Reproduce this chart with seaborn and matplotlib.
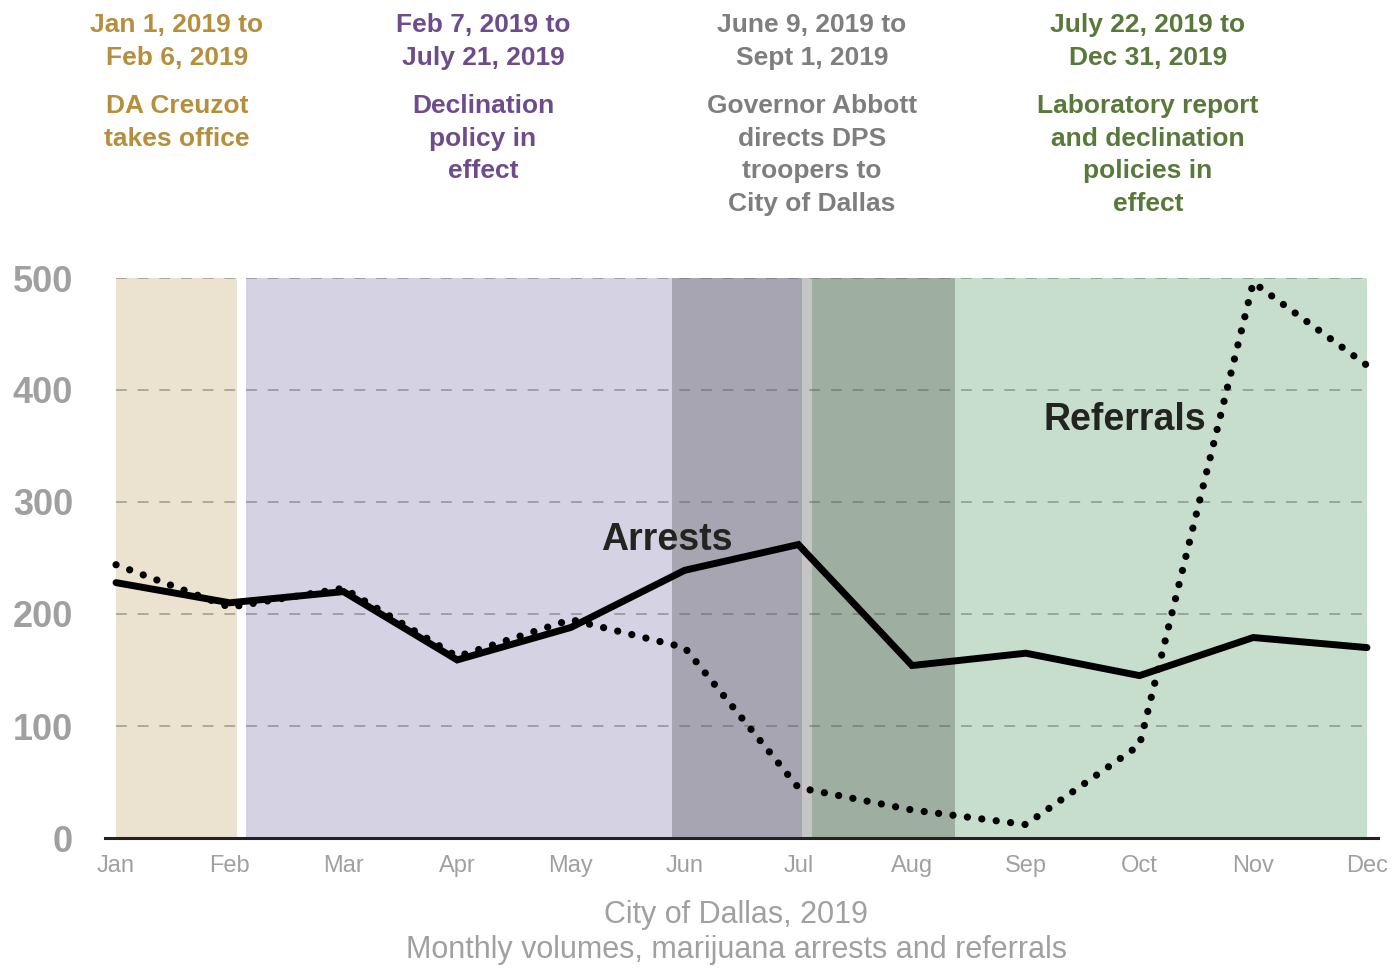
import matplotlib
matplotlib.use("Agg")
import matplotlib.pyplot as plt
import seaborn as sns
import pandas as pd

# Data
months = ["Jan", "Feb", "Mar", "Apr", "May", "Jun",
          "Jul", "Aug", "Sep", "Oct", "Nov", "Dec"]
arrests = [228, 210, 220, 159, 188, 239, 262, 154, 165, 145, 179, 170]
referrals = [244, 206, 223, 162, 195, 170, 45, 25, 12, 83, 496, 422]
y_ticks = [0, 100, 200, 300, 400, 500]

# periods and header text
period_dates = ["Jan 1, 2019 to\nFeb 6, 2019",
                "Feb 7, 2019 to\nJuly 21, 2019",
                "June 9, 2019 to\nSept 1, 2019",
                "July 22, 2019 to\nDec 31, 2019"]
period_notes = ["DA Creuzot\ntakes office",
                "Declination\npolicy in\neffect",
                "Governor Abbott\ndirects DPS\ntroopers to\nCity of Dallas",
                "Laboratory report\nand declination\npolicies in\neffect"]
period_colors = ["#B58F3C", "#6E4C8C", "#7E7E7E", "#58793A"]

df = pd.DataFrame({"x": range(len(months)), "Arrests": arrests, "Referrals": referrals})

sns.set_theme(style="white")
plt.rcParams["font.family"] = ["Liberation Sans", "DejaVu Sans"]

fig = plt.figure(figsize=(13.93, 9.68), dpi=100)
ax = fig.add_axes([105 / 1393, 1 - 838 / 968, (1378 - 105) / 1393, (838 - 278) / 968])

# shaded bands (month units)
bands = [
    (0.0, 1.064, "#EBE3D0"),
    (1.143, 4.89, "#D5D2E3"),
    (4.89, 6.03, "#A8A5B2"),
    (6.03, 6.12, "#C5C5C5"),
    (6.12, 7.38, "#9EAFA2"),
    (7.38, 11.0, "#C7DECD"),
]
for x0, x1, c in bands:
    ax.axvspan(x0, x1, color=c, lw=0, zorder=0)

ax.hlines(y_ticks[1:], 0, len(months) - 1, color="#555555", alpha=0.45, lw=1.3,
          linestyles=[(0, (6, 6))], zorder=1)

sns.lineplot(data=df, x="x", y="Arrests", ax=ax, color="black", lw=5.0,
             solid_joinstyle="miter", zorder=3, clip_on=False)
sns.lineplot(data=df, x="x", y="Referrals", ax=ax, color="black", lw=5.2,
             linestyle=(0, (0.01, 2.0)), dash_capstyle="round", zorder=3, clip_on=False)

ax.set_xlim(-0.097, 11.097)
ax.set_ylim(0, 500)
ax.set_xticks(range(len(months)))
ax.set_xticklabels(months, fontsize=17, color="#A0A0A0")
ax.set_yticks(y_ticks)
ax.set_yticklabels([str(v) for v in y_ticks], fontsize=26, fontweight="bold", color="#A0A0A0")
ax.tick_params(axis="both", length=0)
ax.tick_params(axis="y", pad=23)
ax.tick_params(axis="x", pad=12)
ax.set_xlabel("")
ax.set_ylabel("")
for s in ["top", "left", "right"]:
    ax.spines[s].set_visible(False)
ax.spines["bottom"].set_color("#222222")
ax.spines["bottom"].set_linewidth(2.2)
ax.spines["bottom"].set_zorder(4)

ax.text(4.84, 266, "Arrests", fontsize=27, fontweight="bold", color="#23241F",
        ha="center", va="center")
ax.text(8.87, 373, "Referrals", fontsize=27, fontweight="bold", color="#23241F",
        ha="center", va="center")

# headers above the chart
col_x = [177, 483, 812, 1148]
for cx, d, n, c in zip(col_x, period_dates, period_notes, period_colors):
    fig.text(cx / 1393, 1 - 13 / 968, d, ha="center", va="top", fontsize=19,
             fontweight="bold", color=c, linespacing=1.45)
    fig.text(cx / 1393, 1 - 94 / 968, n, ha="center", va="top", fontsize=19,
             fontweight="bold", color=c, linespacing=1.45)

fig.text(736 / 1393, 1 - 915 / 968, "City of Dallas, 2019", ha="center", va="center",
         fontsize=22, color="#A0A0A0")
fig.text(736 / 1393, 1 - 950 / 968, "Monthly volumes, marijuana arrests and referrals",
         ha="center", va="center", fontsize=22, color="#A0A0A0")

fig.savefig("out.png", dpi=100)
